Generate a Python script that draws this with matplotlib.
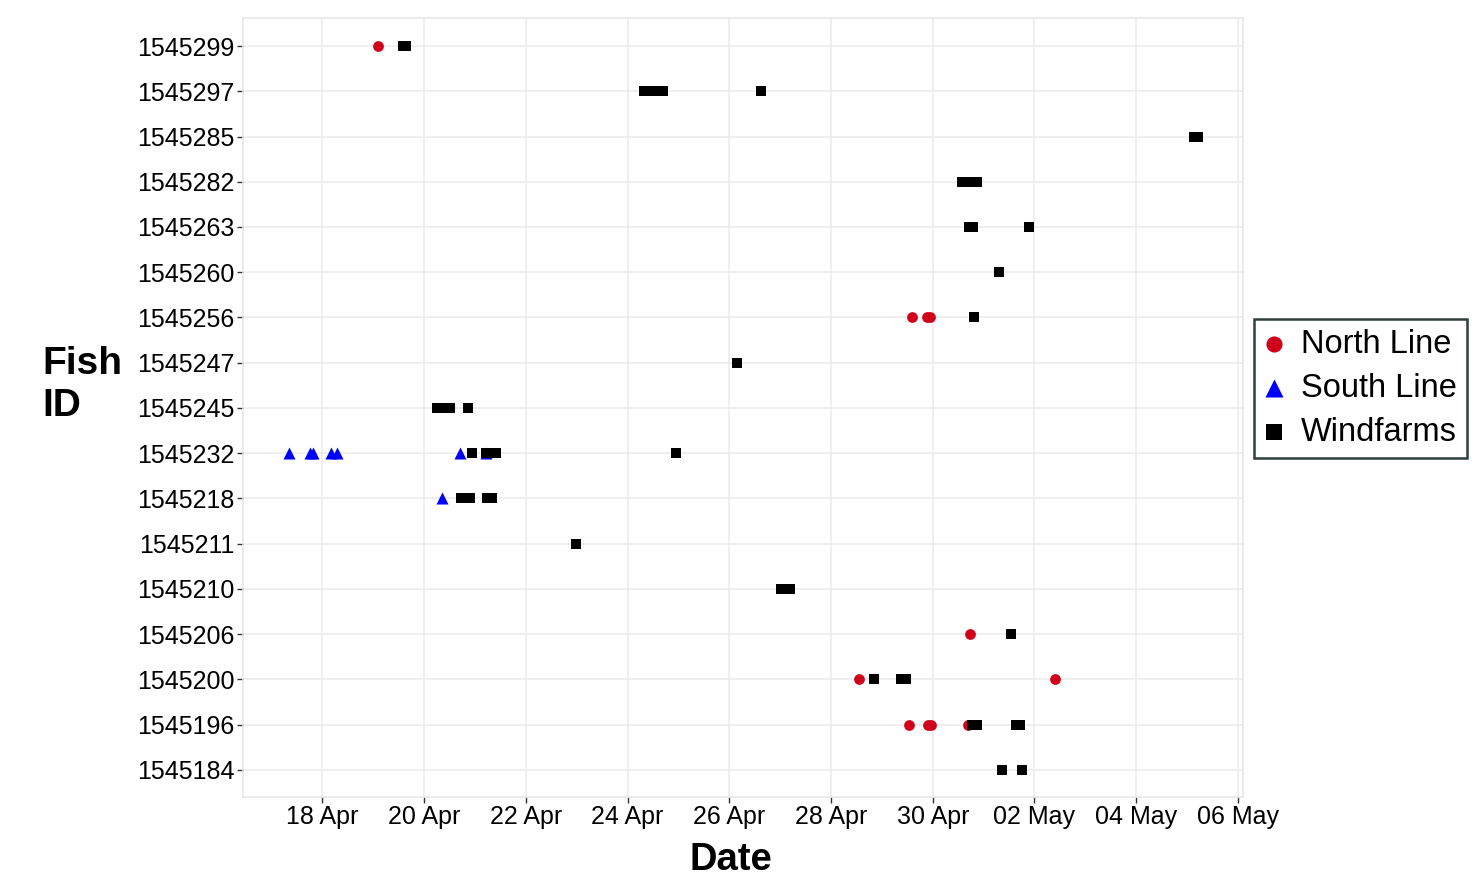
import pandas as pd
import numpy as np
import matplotlib
matplotlib.use("Agg")
import matplotlib.pyplot as plt
import matplotlib.dates as mdates

plt.rcParams['font.family'] = ['Liberation Sans', 'DejaVu Sans']

# fish ids, top to bottom as in the chart
fish_ids = ["1545299", "1545297", "1545285", "1545282", "1545263", "1545260",
            "1545256", "1545247", "1545245", "1545232", "1545218", "1545211",
            "1545210", "1545206", "1545200", "1545196", "1545184"]

# detections: fish id and day (day of April, 31 = 1 May)
north_id = ["1545299", "1545256", "1545256", "1545256", "1545206", "1545200",
            "1545200", "1545196", "1545196", "1545196", "1545196"]
north_day = [19.10, 29.59, 29.88, 29.94, 30.73, 28.55,
             32.40, 29.53, 29.90, 29.96, 30.69]

south_id = ["1545232", "1545232", "1545232", "1545232", "1545232", "1545232",
            "1545232", "1545218"]
south_day = [17.35, 17.75, 17.81, 18.16, 18.28, 20.71, 21.21, 20.35]

wind_id = ["1545299", "1545299",
           "1545297", "1545297", "1545297", "1545297", "1545297",
           "1545285", "1545285",
           "1545282", "1545282", "1545282", "1545282",
           "1545263", "1545263", "1545263",
           "1545260",
           "1545256",
           "1545247",
           "1545245", "1545245", "1545245", "1545245", "1545245",
           "1545232", "1545232", "1545232", "1545232", "1545232",
           "1545218", "1545218", "1545218", "1545218",
           "1545211",
           "1545210", "1545210",
           "1545206",
           "1545200", "1545200", "1545200",
           "1545196", "1545196", "1545196", "1545196",
           "1545184", "1545184"]
wind_day = [19.58, 19.64,
            24.32, 24.45, 24.58, 24.70, 26.62,
            35.13, 35.21,
            30.58, 30.68, 30.77, 30.87,
            30.72, 30.80, 31.90,
            31.30,
            30.81,
            26.15,
            20.25, 20.34, 20.43, 20.51, 20.86,
            20.93, 21.21, 21.32, 21.42, 24.96,
            20.72, 20.91, 21.23, 21.34,
            22.99,
            27.02, 27.19,
            31.54,
            28.84, 29.38, 29.48,
            30.77, 30.87, 31.63, 31.71,
            31.37, 31.76]

tick_days = [18, 20, 22, 24, 26, 28, 30, 32, 34, 36]

base = pd.Timestamp("2021-03-31")


def to_date(days):
    return mdates.date2num(base + pd.to_timedelta(np.array(days), unit="D"))


ypos = {f: len(fish_ids) - 1 - i for i, f in enumerate(fish_ids)}


def to_y(ids):
    return [ypos[f] for f in ids]


fig = plt.figure(figsize=(14.84, 8.9), dpi=100)
ax = fig.add_axes([243 / 1484, 1 - 797 / 890, 1000 / 1484, 779 / 890])

ax.scatter(to_date(north_day), to_y(north_id), marker="o", s=60,
           color="#d0021b", linewidths=0, label="North Line", zorder=3)
ax.scatter(to_date(south_day), to_y(south_id), marker="^", s=75,
           color="#0000ff", linewidths=0, label="South Line", zorder=4)
ax.scatter(to_date(wind_day), to_y(wind_id), marker="s", s=55,
           color="black", linewidths=0, label="Windfarms", zorder=5)

ax.set_xlim(to_date([16.437])[0], to_date([36.10])[0])
ax.set_ylim(-0.6, 16.62)

ax.set_yticks(range(len(fish_ids)))
ax.set_yticklabels(fish_ids[::-1])
ax.set_xticks(to_date(tick_days))
ax.xaxis.set_major_formatter(mdates.DateFormatter("%d %b"))

ax.tick_params(axis="both", labelsize=18, length=4, width=1,
               color="#333333", labelcolor="black", pad=2)
ax.grid(True, color="#ebebeb", linewidth=1.1)
ax.set_axisbelow(True)
for sp in ax.spines.values():
    sp.set_color("#e6e6e6")
    sp.set_linewidth(1.1)

fig.text(731 / 1484, 1 - 860 / 890, "Date", fontsize=27.5, fontweight="bold",
         ha="center", va="center")
fig.text(42 / 1484, 1 - 385 / 890, "Fish\nID", fontsize=28, fontweight="bold",
         ha="left", va="center", linespacing=1.2)

leg = fig.legend(loc="upper left", bbox_to_anchor=(1254 / 1484, 1 - 319 / 890),
                 borderaxespad=0, fontsize=23.5, markerscale=1.5,
                 handletextpad=0.55, borderpad=0.3, labelspacing=0.4,
                 handlelength=0.6, fancybox=False, framealpha=1)
leg.get_frame().set_edgecolor("#2f3f3f")
leg.get_frame().set_linewidth(1.8)

fig.savefig("out.png", dpi=100)
